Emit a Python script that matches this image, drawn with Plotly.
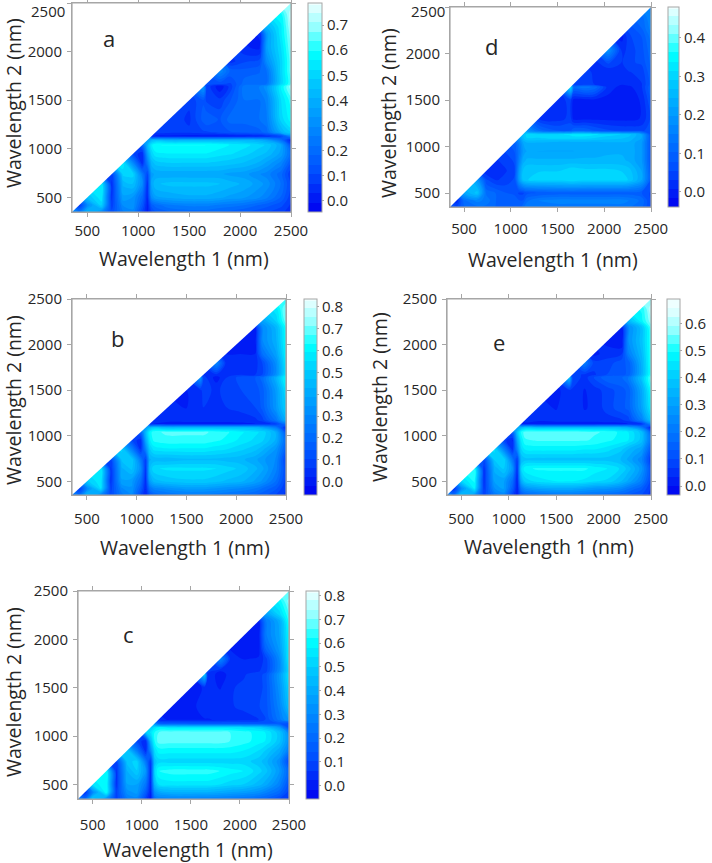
import plotly.graph_objects as go

W, H = 712, 863
wavelengths = [350, 420, 500, 640, 740, 850, 950, 1040, 1090, 1130, 1170, 1300, 1500, 1640, 1670, 1800, 1900, 2040, 2190, 2260, 2400, 2500]
tick_labels = [500, 1000, 1500, 2000, 2500]

# Upper-triangle rows: each row starts on the diagonal at Wavelength 2 = wavelengths[i]
panel_a = [
    [.3,.25,.42,.3,.12,.25,.28,.1,.02,.1,.14,.18,.2,.2,.2,.18,.17,.15,.12,.11,.08,.05],
    [.06,.3,.5,.08,.3,.32,.15,.02,.16,.2,.25,.27,.27,.27,.25,.24,.22,.18,.16,.12,.06],
    [.45,.55,.06,.36,.33,.2,.03,.3,.36,.38,.4,.4,.4,.38,.36,.34,.3,.27,.18,.08],
    [.55,.05,.42,.45,.3,.05,.38,.44,.46,.46,.46,.46,.45,.43,.4,.35,.32,.22,.1],
    [.1,.5,.5,.25,.1,.36,.38,.38,.38,.38,.38,.38,.36,.35,.3,.28,.2,.07],
    [.55,.3,.05,.25,.42,.46,.48,.48,.48,.48,.47,.46,.44,.4,.36,.28,.14],
    [.1,.04,.35,.5,.55,.56,.56,.56,.56,.54,.53,.5,.46,.44,.36,.2],
    [.2,.42,.55,.6,.6,.6,.6,.6,.58,.56,.54,.5,.48,.38,.12],
    [.35,.42,.45,.42,.42,.42,.42,.42,.42,.42,.4,.36,.22,.02],
    [.05,.02,.02,.01,.01,.01,.01,.01,.02,.03,.05,.1,.3],
    [.08,.08,.08,.1,.1,.12,.14,.15,.17,.2,.4,.5],
    [.1,.06,.16,.18,.14,.2,.2,.22,.25,.5,.58],
    [.08,.14,.1,.08,.14,.22,.22,.27,.52,.62],
    [.35,.1,.0,.08,.24,.26,.32,.56,.7],
    [.12,.12,.1,.2,.2,.22,.5,.64],
    [.3,.18,.16,.18,.22,.5,.66],
    [.05,.1,.12,.3,.5,.66],
    [.04,.02,.36,.52,.68],
    [.04,.35,.55,.7],
    [.42,.55,.72],
    [.6,.74],
    [.68],
]
panel_b = [
    [.28,.22,.45,.3,.1,.25,.3,.1,.02,.12,.18,.22,.25,.25,.25,.24,.23,.21,.18,.16,.1,.05],
    [.05,.3,.55,.08,.3,.34,.16,.02,.22,.28,.32,.36,.36,.36,.34,.32,.3,.26,.22,.15,.06],
    [.5,.58,.05,.38,.36,.22,.03,.36,.44,.48,.5,.5,.5,.48,.46,.44,.38,.34,.22,.08],
    [.58,.05,.42,.48,.32,.05,.46,.54,.56,.56,.56,.56,.55,.53,.5,.44,.4,.28,.1],
    [.1,.48,.5,.25,.08,.42,.44,.44,.46,.46,.46,.46,.45,.44,.4,.36,.3,.08],
    [.52,.28,.05,.28,.5,.56,.58,.58,.58,.58,.56,.55,.52,.48,.44,.34,.16],
    [.1,.03,.4,.58,.64,.66,.66,.66,.66,.64,.62,.58,.54,.52,.42,.2],
    [.2,.45,.6,.66,.68,.68,.68,.68,.66,.64,.6,.56,.54,.42,.14],
    [.35,.45,.5,.46,.46,.46,.46,.46,.46,.46,.44,.4,.26,.03],
    [.05,.02,.01,.01,.01,.01,.01,.01,.01,.02,.03,.08,.25],
    [.04,.03,.03,.03,.03,.03,.03,.04,.05,.08,.24,.42],
    [.03,.02,.06,.06,.04,.06,.07,.1,.15,.34,.52],
    [.02,.05,.08,.05,.08,.1,.12,.16,.36,.56],
    [.35,.08,.0,.06,.12,.14,.2,.42,.62],
    [.06,.05,.05,.06,.06,.1,.32,.58],
    [.3,.04,.04,.04,.1,.32,.58],
    [.02,.02,.02,.22,.38,.6],
    [.02,.0,.3,.42,.62],
    [.02,.3,.44,.64],
    [.38,.52,.7],
    [.58,.72],
    [.64],
]
panel_c = [
    [.28,.2,.5,.32,.08,.25,.28,.08,.0,.22,.26,.27,.27,.26,.26,.25,.24,.22,.19,.17,.1,.05],
    [.04,.3,.62,.08,.32,.36,.16,.01,.32,.38,.42,.42,.42,.42,.4,.38,.36,.32,.28,.2,.08],
    [.55,.62,.05,.38,.38,.24,.02,.44,.54,.56,.56,.56,.56,.54,.52,.5,.44,.4,.28,.12],
    [.6,.05,.42,.5,.34,.03,.52,.62,.64,.64,.64,.64,.62,.6,.58,.52,.48,.35,.18],
    [.1,.48,.52,.24,.06,.48,.52,.52,.52,.52,.52,.52,.52,.52,.48,.44,.32,.1],
    [.5,.26,.04,.3,.54,.6,.6,.6,.6,.6,.6,.6,.58,.54,.5,.4,.26],
    [.1,.03,.45,.62,.68,.68,.68,.68,.68,.68,.66,.64,.6,.58,.48,.32],
    [.5,.55,.62,.66,.68,.68,.68,.68,.68,.66,.64,.6,.58,.48,.3],
    [.5,.55,.58,.56,.56,.56,.56,.56,.56,.54,.52,.48,.35,.12],
    [.3,.18,.15,.14,.14,.14,.14,.14,.14,.14,.14,.14,.1],
    [.03,.02,.02,.02,.02,.03,.04,.05,.06,.1,.24,.36],
    [.02,.0,.06,.06,.06,.06,.07,.1,.12,.28,.46],
    [.0,.03,.04,.02,.06,.07,.08,.12,.32,.52],
    [.5,.06,.0,.04,.06,.08,.12,.34,.56],
    [.08,.02,.06,.06,.06,.08,.3,.54],
    [.3,.06,.02,.03,.08,.3,.58],
    [.02,.0,.0,.18,.35,.58],
    [.02,.0,.25,.38,.6],
    [.02,.25,.4,.64],
    [.36,.52,.66],
    [.6,.72],
    [.64],
]
panel_d = [
    [.08,.06,.1,.12,.12,.1,.1,.08,.08,.12,.14,.14,.14,.14,.14,.14,.14,.14,.14,.13,.11,.05],
    [.01,.12,.16,.14,.1,.1,.1,.08,.08,.12,.15,.16,.16,.16,.16,.16,.16,.16,.15,.12,.05],
    [.22,.28,.12,.1,.08,.07,.05,.05,.07,.08,.09,.09,.09,.09,.09,.09,.09,.09,.08,.05],
    [.2,.06,.03,.04,.06,.2,.27,.29,.3,.3,.31,.31,.3,.3,.3,.3,.29,.22,.08],
    [.01,.02,.03,.05,.2,.27,.29,.29,.29,.31,.31,.3,.3,.3,.29,.28,.22,.08],
    [.03,.04,.06,.16,.23,.25,.25,.25,.25,.25,.25,.25,.25,.25,.24,.2,.07],
    [.06,.08,.14,.2,.22,.22,.22,.22,.22,.23,.23,.24,.24,.24,.2,.07],
    [.1,.16,.22,.24,.24,.23,.23,.23,.23,.23,.24,.24,.24,.2,.07],
    [.2,.26,.29,.29,.3,.3,.3,.3,.29,.28,.27,.26,.22,.07],
    [.26,.3,.3,.31,.32,.33,.33,.32,.3,.29,.28,.22,.06],
    [.2,.12,.08,.08,.1,.1,.08,.06,.05,.05,.05,.07],
    [.03,.02,.04,.0,0,0,0,0,0,.01,.06],
    [.02,.04,.0,0,0,0,0,0,.01,.08],
    [.32,.12,.14,.12,.02,.0,.0,.03,.1],
    [.05,.04,.03,.01,.01,.02,.03,.09],
    [.05,.02,.01,.02,.03,.04,.1],
    [.02,.06,.03,.05,.06,.11],
    [.2,.02,.04,.07,.12],
    [.0,.05,.08,.14],
    [.06,.1,.16],
    [.12,.18],
    [.16],
]
panel_e = [
    [.24,.18,.38,.28,.08,.2,.24,.08,.02,.12,.15,.18,.2,.2,.2,.19,.18,.17,.14,.13,.1,.05],
    [.04,.25,.46,.06,.26,.3,.14,.02,.2,.26,.3,.32,.32,.32,.3,.28,.27,.24,.2,.14,.06],
    [.42,.5,.05,.3,.3,.18,.02,.32,.4,.44,.46,.46,.46,.45,.43,.42,.36,.32,.22,.08],
    [.5,.05,.34,.4,.28,.04,.42,.48,.5,.5,.5,.5,.5,.48,.46,.42,.38,.28,.1],
    [.1,.4,.42,.2,.07,.36,.38,.38,.38,.38,.38,.38,.38,.38,.36,.32,.24,.06],
    [.44,.24,.05,.24,.42,.46,.47,.47,.47,.47,.46,.46,.44,.4,.36,.3,.12],
    [.08,.03,.32,.46,.52,.53,.53,.53,.53,.53,.52,.5,.48,.46,.38,.18],
    [.16,.38,.5,.54,.55,.55,.55,.55,.54,.53,.52,.48,.46,.38,.14],
    [.3,.36,.4,.38,.38,.38,.38,.38,.38,.38,.36,.34,.22,.02],
    [.04,.02,.01,.01,.01,.01,.01,.01,.02,.02,.03,.06,.25],
    [.05,.04,.05,.05,.05,.05,.05,.05,.06,.08,.22,.38],
    [.05,.03,.06,.06,.03,.04,.08,.12,.14,.3,.46],
    [.02,.06,.06,.03,.05,.08,.12,.14,.32,.5],
    [.38,.1,.05,.1,.16,.16,.2,.38,.55],
    [.08,.06,.06,.1,.12,.14,.34,.52],
    [.22,.08,.08,.12,.14,.34,.52],
    [.02,.05,.06,.22,.36,.52],
    [.02,.0,.26,.38,.52],
    [.02,.25,.38,.54],
    [.36,.48,.58],
    [.5,.62],
    [.54],
]

colorscale = [[0, "#0000f0"], [.2, "#0050ff"], [.45, "#0096ff"], [.62, "#00c8ff"],
              [.76, "#00ffff"], [.88, "#90ffff"], [1, "#eeffff"]]

# name, rows, frame(l,r,t,b), colorbar(l,r), zmin, zmax, cb ticks, letter xy, xtitle xy, ytitle xy,
# x/y tick standoff, position of a top y label that would otherwise be dropped at the page edge
panels = [
    ("a", panel_a, (72, 291, 3, 212), (308, 322), -.044, .788, [0,.1,.2,.3,.4,.5,.6,.7], (109, 38), (184, 258), (13, 103), (1, 2), (48, 11)),
    ("b", panel_b, (72, 286, 299, 495), (304, 317), -.061, .835, [0,.1,.2,.3,.4,.5,.6,.7,.8], (117, 338), (185, 547), (13, 400), (6, 2), None),
    ("c", panel_c, (78, 289, 591, 799), (306, 319), -.056, .82, [0,.1,.2,.3,.4,.5,.6,.7,.8], (128, 634), (188, 849), (13, 692), (8, 2), None),
    ("d", panel_d, (450, 651, 7, 207), (668, 679), -.039, .48, [0,.1,.2,.3,.4], (491, 46), (553, 259), (388, 113), (4, 2), (428, 11)),
    ("e", panel_e, (447, 651, 299, 495), (667, 680), -.033, .69, [0,.1,.2,.3,.4,.5,.6], (499, 342), (549, 546), (379, 397), (6, 2), None),
]

FONT = "Open Sans"
TXT = "#262626"
GREY = "#a6a6a6"

fig = go.Figure()
shapes, annotations = [], []
layout = {}
n = len(wavelengths)

def label(text, xy, size, angle=0):
    return dict(text=text, xref="paper", yref="paper", x=xy[0] / W, y=1 - xy[1] / H, xanchor="center", yanchor="middle",
                showarrow=False, textangle=angle, font=dict(family=FONT, size=size, color=TXT))

for k, (name, rows, (l, r, t, b), (cl, cr), zmin, zmax, ticks, letter, xt, yt, standoff, top_label) in enumerate(panels):
    assert [len(row) for row in rows] == list(range(n, 0, -1)), (name, [len(row) for row in rows])
    z = [[None] * n for _ in range(n)]
    for i, row in enumerate(rows):
        for off, v in enumerate(row):
            z[i][i + off] = v      # x >= y, the drawn triangle
            z[i + off][i] = v      # mirrored: the matrix is symmetric, and this half is hidden
    sfx = "" if k == 0 else str(k + 1)
    fig.add_trace(go.Contour(
        x=wavelengths, y=wavelengths, z=z, xaxis="x" + sfx, yaxis="y" + sfx,
        zmin=zmin, zmax=zmax, zauto=False, autocontour=False, colorscale=colorscale,
        contours=dict(start=zmin, end=zmax, size=(zmax - zmin) / 22, coloring="fill", showlines=False),
        line=dict(width=0),
        hoverinfo="skip",
        colorbar=dict(
            x=cl / W, xanchor="left", y=1 - t / H, yanchor="top", len=(b - t) / H, lenmode="fraction",
            thickness=cr - cl, thicknessmode="pixels", xpad=0, ypad=0,
            outlinecolor=GREY, outlinewidth=1, tickvals=ticks, ticktext=[f"{v:.1f}" for v in ticks],
            ticks="outside", ticklen=2, tickcolor=GREY, tickfont=dict(family=FONT, size=15, color=TXT),
        ),
    ))
    axis = dict(range=[350, 2500], tickvals=tick_labels, ticks="outside", ticklen=4, tickwidth=1, tickcolor=GREY,
                mirror="allticks", showline=True, linecolor=GREY, linewidth=1, showgrid=False, zeroline=False,
                tickfont=dict(family=FONT, size=15, color=TXT))
    layout["xaxis" + sfx] = {**axis, "domain": [l / W, r / W], "anchor": "y" + sfx, "ticklabelstandoff": standoff[0]}
    layout["yaxis" + sfx] = {**axis, "domain": [1 - b / H, 1 - t / H], "anchor": "x" + sfx, "ticklabelstandoff": standoff[1]}
    if top_label:
        layout["yaxis" + sfx]["ticktext"] = [str(v) for v in tick_labels[:-1]] + [""]
        annotations.append(label(str(tick_labels[-1]), top_label, 15))
    xr, yr = "x" + sfx, "y" + sfx
    shapes.append(dict(type="path", xref=xr, yref=yr, layer="above", line=dict(width=0), fillcolor="white",
                       path=f"M{wavelengths[0]},{wavelengths[0]} L{wavelengths[0]},{wavelengths[-1]} L{wavelengths[-1]},{wavelengths[-1]} Z"))
    shapes.append(dict(type="rect", xref=xr, yref=yr, layer="above", line=dict(width=1.2, color=GREY),
                       x0=wavelengths[0], x1=wavelengths[-1], y0=wavelengths[0], y1=wavelengths[-1]))
    annotations.append(label(name, letter, 22))
    annotations.append(label("Wavelength 1 (nm)", xt, 19.5))
    annotations.append(label("Wavelength 2 (nm)", yt, 19.5, -90))

fig.update_layout(width=W, height=H, margin=dict(l=0, r=0, t=0, b=0, autoexpand=False), paper_bgcolor="white", plot_bgcolor="white",
                  shapes=shapes, annotations=annotations, showlegend=False, **layout)
fig.write_html("out.html", post_script="document.body.style.margin='0';", config={"displayModeBar": False})
